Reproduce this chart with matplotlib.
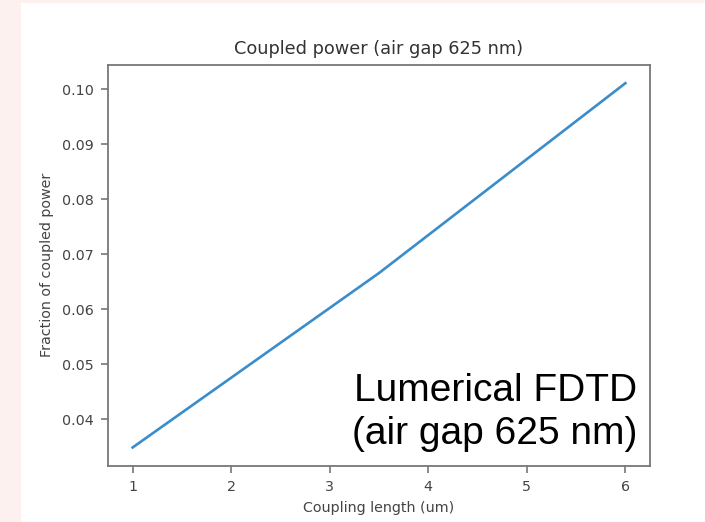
import matplotlib
matplotlib.use("Agg")
import matplotlib.pyplot as plt
from matplotlib.patches import Rectangle

# Coupling-length sweep and simulated coupled-power fraction
coupling_length_um = [1.0, 3.5, 6.0]
coupled_fraction = [0.0349, 0.0666, 0.1011]

x_ticks = [1, 2, 3, 4, 5, 6]
y_ticks = [0.04, 0.05, 0.06, 0.07, 0.08, 0.09, 0.10]

W, H = 705, 522
fig = plt.figure(figsize=(W / 100, H / 100), dpi=100, facecolor="white")

# light pink frame strips on the left and top edges
pink = "#fdf1ef"
fig.patches.append(Rectangle((0, 0), 21 / W, 1, transform=fig.transFigure,
                             facecolor=pink, edgecolor="none", zorder=0))
fig.patches.append(Rectangle((0, 1 - 3 / H), 1, 3 / H, transform=fig.transFigure,
                             facecolor=pink, edgecolor="none", zorder=0))

left, right, top, bottom = 108, 650, 65, 465.7
ax = fig.add_axes([left / W, (H - bottom) / H, (right - left) / W, (bottom - top) / H])

ax.plot(coupling_length_um, coupled_fraction, color="#3a8dca", lw=1.9)

ax.set_xticks(x_ticks)
ax.set_yticks(y_ticks)
ax.set_yticklabels([f"{v:.2f}" for v in y_ticks])

text_col = "#444444"
spine_col = "#777777"
for s in ax.spines.values():
    s.set_color(spine_col)
    s.set_linewidth(1.3)
ax.tick_params(colors=spine_col, labelcolor=text_col, labelsize=10.3,
               length=5, width=1.2, pad=5)

ax.set_title("Coupled power (air gap 625 nm)", fontsize=12.8, color="#333333", pad=8)
ax.set_xlabel("Coupling length (um)", fontsize=10.3, color=text_col, labelpad=5)
ax.set_ylabel("Fraction of coupled power", fontsize=10.3, color=text_col, labelpad=6)

ax.text(0.976, 0.133, "Lumerical FDTD\n(air gap 625 nm)", transform=ax.transAxes,
        ha="right", va="center", multialignment="right",
        fontsize=28, family="Liberation Sans", color="black", linespacing=1.25)

fig.savefig("out.png", dpi=100, facecolor=fig.get_facecolor())
